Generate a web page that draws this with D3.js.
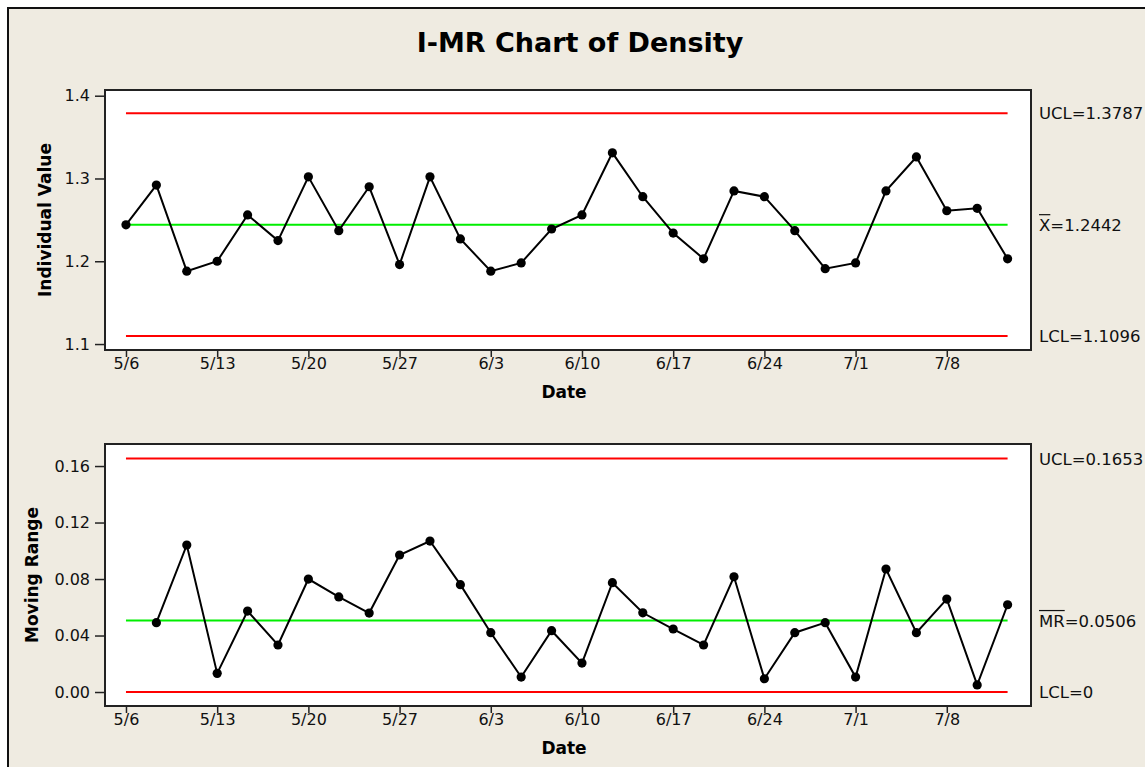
<!DOCTYPE html>
<html>
<head>
<meta charset="utf-8">
<script src="https://cdn.jsdelivr.net/npm/d3@7"></script>
<style>
  body { margin: 0; background: #fff; }
  svg { display: block; font-family: "DejaVu Sans", Verdana, sans-serif; }
</style>
</head>
<body>
<svg width="1145" height="767"></svg>
<script>
// tick labels on the date axis (one every 3 observations)
const dateLabels = ["5/6","5/13","5/20","5/27","6/3","6/10","6/17","6/24","7/1","7/8"]

// individual values (obs 1..30)
const indValues = [1.244, 1.292, 1.188, 1.200, 1.256, 1.225, 1.302, 1.237, 1.290, 1.196,
                   1.302, 1.227, 1.188, 1.198, 1.239, 1.256, 1.331, 1.278, 1.234, 1.203,
                   1.285, 1.278, 1.237, 1.191, 1.198, 1.285, 1.326, 1.261, 1.264, 1.203]

// moving ranges (obs 2..30)
const mrValues = [0.0491, 0.1041, 0.0132, 0.0573, 0.0333, 0.0800, 0.0673, 0.0559, 0.0970,
                  0.1069, 0.0760, 0.0420, 0.0106, 0.0434, 0.0205, 0.0774, 0.0561, 0.0446,
                  0.0333, 0.0816, 0.0094, 0.0420, 0.0491, 0.0106, 0.0871, 0.0420, 0.0658,
                  0.0050, 0.0618]

// control limits: [UCL, center, LCL]
const indLimits = [1.3787, 1.2442, 1.1096]
const mrLimits = [0.1653, 0.0506, 0]

const indTicks = [1.1, 1.2, 1.3, 1.4]
const mrTicks = [0.00, 0.04, 0.08, 0.12, 0.16]

const n = indValues.length

const svg = d3.select("svg")

// background + outer frame
svg.append("rect").attr("x", 8).attr("y", 8).attr("width", 1145).attr("height", 767)
    .attr("fill", "#efebe1").attr("stroke", "#111").attr("stroke-width", 2)

svg.append("text")
    .attr("x", 580).attr("y", 52)
    .attr("text-anchor", "middle")
    .style("font-size", "27px").style("font-weight", "bold")
    .text("I-MR Chart of Density")

const plotLeft = 105, plotRight = 1031

const x = d3.scaleLinear().domain([0.31, n + 0.77]).range([plotLeft, plotRight])

function panel(cfg){
    const g = svg.append("g")
    const y = d3.scaleLinear().domain(cfg.domain).range([cfg.bottom, cfg.top])

    g.append("rect")
        .attr("x", plotLeft).attr("y", cfg.top)
        .attr("width", plotRight - plotLeft).attr("height", cfg.bottom - cfg.top)
        .attr("fill", "white").attr("stroke", "#222").attr("stroke-width", 2)

    // y axis
    const ya = g.append("g")
        .attr("transform", `translate(${plotLeft},0)`)
        .call(d3.axisLeft(y).tickValues(cfg.ticks).tickFormat(d3.format(cfg.fmt))
            .tickSize(10).tickSizeOuter(0).tickPadding(5))
    ya.select(".domain").remove()

    // x axis
    const xa = g.append("g")
        .attr("transform", `translate(0,${cfg.bottom})`)
        .call(d3.axisBottom(x)
            .tickValues(dateLabels.map((d, i) => 1 + i * 3))
            .tickFormat((d, i) => dateLabels[i])
            .tickSize(7).tickSizeOuter(0).tickPadding(1))
    xa.select(".domain").remove()

    g.selectAll(".tick line").attr("stroke", "#222").attr("stroke-width", 1.5)
    g.selectAll(".tick text").attr("fill", "#111")
        .style("font-size", "16px").style("font-family", "DejaVu Sans")

    // control lines
    const colors = ["#ff0000", "#00ee00", "#ff0000"]
    cfg.limits.forEach((v, i) => {
        g.append("line")
            .attr("x1", x(1)).attr("x2", x(n))
            .attr("y1", y(v)).attr("y2", y(v))
            .attr("stroke", colors[i]).attr("stroke-width", 2)
    })

    // data
    const pts = cfg.values.map((v, i) => [i + cfg.start, v])
    g.append("path")
        .datum(pts)
        .attr("fill", "none").attr("stroke", "black").attr("stroke-width", 2)
        .attr("d", d3.line().x(d => x(d[0])).y(d => y(d[1])))
    g.selectAll("circle.pt")
        .data(pts)
        .enter()
        .append("circle")
        .attr("cx", d => x(d[0]))
        .attr("cy", d => y(d[1]))
        .attr("r", 4.6)
        .attr("fill", "black")

    // limit labels on the right
    const lx = 1039
    cfg.labels.forEach((lab, i) => {
        const ly = y(cfg.limits[i]) + 6
        const t = g.append("text").attr("x", lx).attr("y", ly)
            .style("font-size", "16.5px").attr("fill", "#111")
        if (lab.bar) {
            const b = t.append("tspan").text(lab.bar)
            t.append("tspan").text(lab.text)
            const w = b.node().getComputedTextLength()
            g.append("line")
                .attr("x1", lx).attr("x2", lx + w)
                .attr("y1", ly - 16).attr("y2", ly - 16)
                .attr("stroke", "#111").attr("stroke-width", 1.2)
        } else {
            t.text(lab.text)
        }
    })

    // axis titles
    g.append("text")
        .attr("transform", `translate(${cfg.titleX},${(cfg.top + cfg.bottom) / 2}) rotate(-90)`)
        .attr("text-anchor", "middle")
        .style("font-size", "17px").style("font-weight", "bold")
        .text(cfg.title)

    g.append("text")
        .attr("x", 564).attr("y", cfg.bottom + 48)
        .attr("text-anchor", "middle")
        .style("font-size", "17px").style("font-weight", "bold")
        .text("Date")
}

panel({
    top: 90, bottom: 350,
    domain: [1.0928, 1.4069],
    ticks: indTicks, fmt: ".1f",
    values: indValues, start: 1,
    limits: indLimits,
    labels: [{text: "UCL=" + indLimits[0]}, {bar: "X", text: "=" + indLimits[1]}, {text: "LCL=" + indLimits[2]}],
    title: "Individual Value", titleX: 50.5
})

panel({
    top: 444, bottom: 706,
    domain: [-0.0099, 0.1756],
    ticks: mrTicks, fmt: ".2f",
    values: mrValues, start: 2,
    limits: mrLimits,
    labels: [{text: "UCL=" + mrLimits[0]}, {bar: "MR", text: "=" + mrLimits[1]}, {text: "LCL=" + mrLimits[2]}],
    title: "Moving Range", titleX: 38
})
</script>
</body>
</html>
